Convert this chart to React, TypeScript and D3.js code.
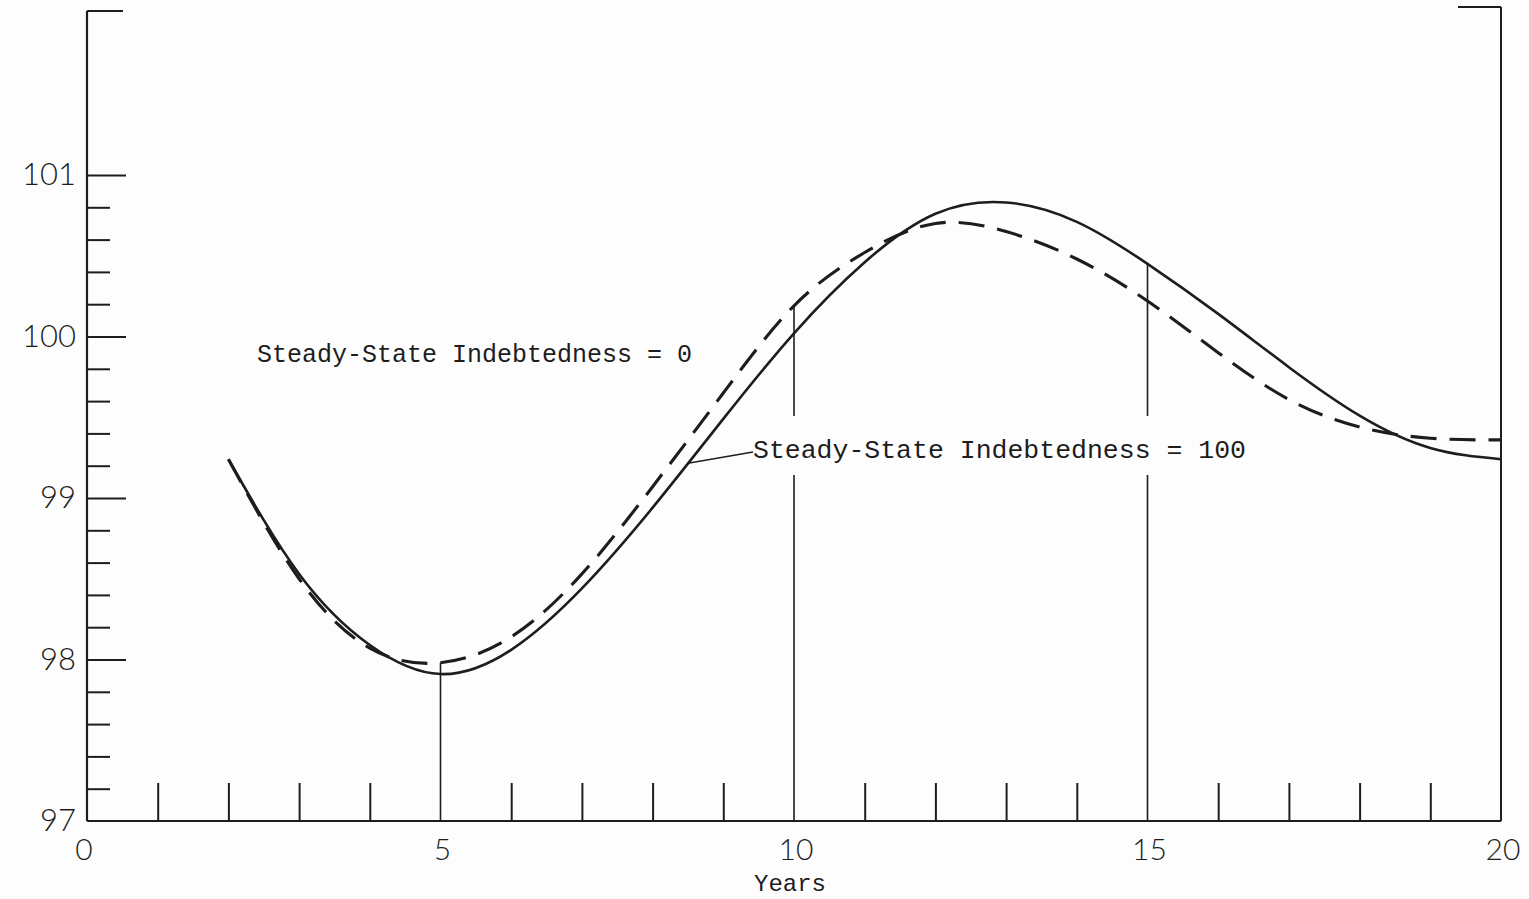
import React, { useRef, useEffect } from 'react';
import * as d3 from 'd3';

// years on the horizontal axis
const years = [2, 3, 4, 5, 6, 7, 8, 9, 10, 11, 12, 13, 14, 15, 16, 17, 18, 19, 20];
// solid line: steady-state indebtedness = 100
const indebtedness100 = [99.24, 98.53, 98.09, 97.91, 98.06, 98.44, 98.94, 99.49, 100.02, 100.46, 100.76, 100.83, 100.71, 100.45, 100.14, 99.81, 99.51, 99.31, 99.24];
// dashed line: steady-state indebtedness = 0
const indebtedness0 = [99.24, 98.50, 98.07, 97.98, 98.14, 98.53, 99.07, 99.65, 100.19, 100.52, 100.70, 100.65, 100.48, 100.22, 99.90, 99.61, 99.44, 99.37, 99.36];

const yLabels = ['97', '98', '99', '100', '101'];
const xLabels = ['0', '5', '10', '15', '20'];
const dropYears = [5, 10, 15];
const labelZero = 'Steady-State Indebtedness = 0';
const labelHundred = 'Steady-State Indebtedness = 100';
const xTitle = 'Years';

const INK = '#1d1d1d';
const LETTERING = 'Lato, "Open Sans", "DejaVu Sans", sans-serif';
const TYPEWRITER = '"Liberation Mono", "DejaVu Sans Mono", monospace';

const App = () => {
  const svgRef = useRef<SVGSVGElement>(null);

  useEffect(() => {
    const width = 1529;
    const height = 899;
    const svg = d3.select(svgRef.current)
      .attr('width', width)
      .attr('height', height)
      .style('background', '#fdfdfd');

    svg.selectAll('*').remove(); // Clear previous content

    const x = d3.scaleLinear().domain([0, 20]).range([87, 1501]);
    const y = d3.scaleLinear().domain([97, 101]).range([821, 175]);

    const g = svg.append('g');

    // frame: left axis, bottom axis, right edge and the two top corner stubs
    g.append('line')
      .attr('x1', x(0)).attr('x2', x(0))
      .attr('y1', 11).attr('y2', y(97))
      .attr('stroke', INK).attr('stroke-width', 2.2);
    g.append('line')
      .attr('x1', x(0)).attr('x2', 123)
      .attr('y1', 11).attr('y2', 11)
      .attr('stroke', INK).attr('stroke-width', 2.2);
    g.append('line')
      .attr('x1', x(20)).attr('x2', x(20))
      .attr('y1', 7).attr('y2', y(97))
      .attr('stroke', INK).attr('stroke-width', 2);
    g.append('line')
      .attr('x1', 1458).attr('x2', x(20))
      .attr('y1', 7).attr('y2', 7)
      .attr('stroke', INK).attr('stroke-width', 2.2);
    g.append('line')
      .attr('x1', x(0)).attr('x2', x(20))
      .attr('y1', y(97)).attr('y2', y(97))
      .attr('stroke', INK).attr('stroke-width', 2.2);

    // y ticks pointing inwards
    const majorY = yLabels.map(Number).filter(v => v > 97);
    const minorY = d3.range(97.2, 100.9, 0.2)
      .map(v => +v.toFixed(1))
      .filter(v => !majorY.includes(v));

    const styleAxis = (sel: any) => {
      sel.select('.domain').remove();
      sel.selectAll('.tick line').attr('stroke', INK).attr('stroke-width', 2);
      sel.selectAll('.tick text').remove();
    };

    g.append('g')
      .attr('transform', `translate(${x(0)},0)`)
      .call(d3.axisRight(y).tickValues(majorY).tickSize(39).tickFormat(() => ''))
      .call(styleAxis);
    g.append('g')
      .attr('transform', `translate(${x(0)},0)`)
      .call(d3.axisRight(y).tickValues(minorY).tickSize(23).tickFormat(() => ''))
      .call(styleAxis);

    // x ticks pointing upwards
    const minorX = d3.range(1, 20).filter(v => !dropYears.includes(v));
    g.append('g')
      .attr('transform', `translate(0,${y(97)})`)
      .call(d3.axisTop(x).tickValues(minorX).tickSize(38).tickFormat(() => ''))
      .call(styleAxis);

    // y labels
    g.selectAll('.ylab')
      .data(yLabels)
      .enter()
      .append('text')
      .attr('x', 76)
      .attr('y', d => y(+d) - 1)
      .attr('dy', '0.36em')
      .attr('text-anchor', 'end')
      .attr('font-family', LETTERING)
      .attr('font-weight', 300)
      .attr('font-size', 31)
      .attr('fill', INK)
      .text(d => d);

    // x labels
    g.selectAll('.xlab')
      .data(xLabels)
      .enter()
      .append('text')
      .attr('x', d => x(+d) + (+d === 0 ? -3 : 2))
      .attr('y', 860)
      .attr('text-anchor', 'middle')
      .attr('font-family', LETTERING)
      .attr('font-weight', 300)
      .attr('font-size', 30)
      .attr('fill', INK)
      .text(d => d);

    g.append('text')
      .attr('x', 790)
      .attr('y', 891)
      .attr('text-anchor', 'middle')
      .attr('font-family', TYPEWRITER)
      .attr('font-size', 24)
      .attr('fill', INK)
      .text(xTitle);

    // vertical drop lines up to the higher curve, broken around the label
    const labelBaseline = 458;
    dropYears.forEach(yr => {
      const i = years.indexOf(yr);
      const top = y(Math.max(indebtedness100[i], indebtedness0[i]));
      const segments = yr === 5
        ? [[top, y(97)]]
        : [[top, labelBaseline - 42], [labelBaseline + 17, y(97)]];
      segments.forEach(([a, b]) => {
        g.append('line')
          .attr('x1', x(yr)).attr('x2', x(yr))
          .attr('y1', a).attr('y2', b)
          .attr('stroke', INK).attr('stroke-width', 1.6);
      });
    });

    const line = d3.line<number>()
      .x((d, i) => x(years[i]))
      .y(d => y(d))
      .curve(d3.curveNatural);

    g.append('path')
      .datum(indebtedness0)
      .attr('d', line)
      .attr('fill', 'none')
      .attr('stroke', INK)
      .attr('stroke-width', 3.1)
      .attr('stroke-dasharray', '26 13');

    g.append('path')
      .datum(indebtedness100)
      .attr('d', line)
      .attr('fill', 'none')
      .attr('stroke', INK)
      .attr('stroke-width', 2.6);

    // annotations
    g.append('text')
      .attr('x', 257)
      .attr('y', 362)
      .attr('font-family', TYPEWRITER)
      .attr('font-size', 25)
      .attr('fill', INK)
      .text(labelZero);

    g.append('text')
      .attr('x', 753)
      .attr('y', labelBaseline)
      .attr('font-family', TYPEWRITER)
      .attr('font-size', 26.5)
      .attr('fill', INK)
      .text(labelHundred);

    // leader from the solid curve to the second label
    const leaderYear = 8.5;
    const solidAt = d3.scaleLinear().domain(years).range(indebtedness100);
    g.append('line')
      .attr('x1', x(leaderYear))
      .attr('y1', y(solidAt(leaderYear)))
      .attr('x2', 753)
      .attr('y2', labelBaseline - 6)
      .attr('stroke', INK)
      .attr('stroke-width', 1.4);
  }, []);

  return <svg ref={svgRef} style={{ position: 'absolute', left: 0, top: 0 }}></svg>;
};

export default App;
